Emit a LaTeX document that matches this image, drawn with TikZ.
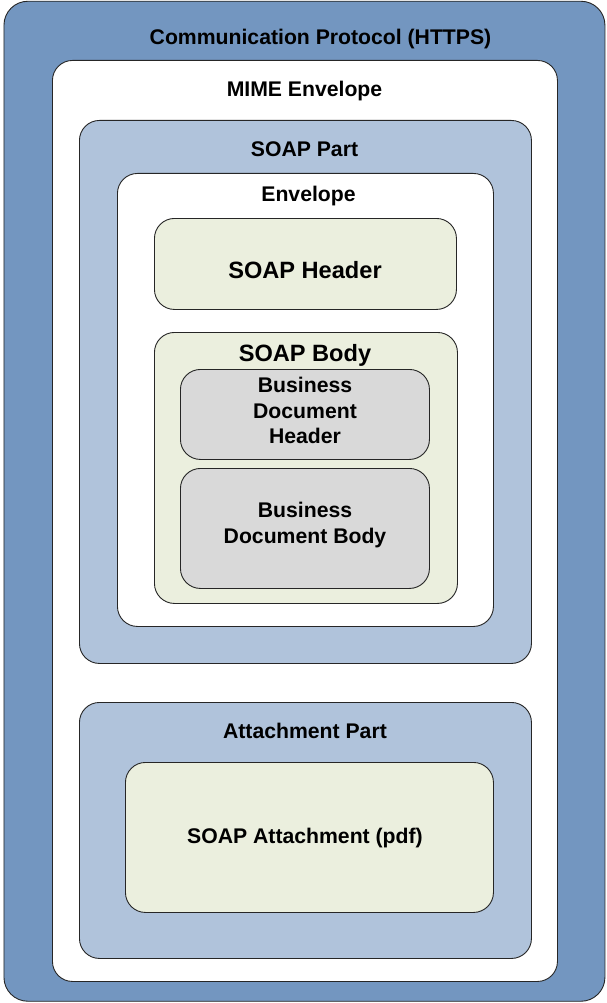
\documentclass[tikz,border=0pt]{standalone}
\usepackage{fontspec}
\setmainfont{Liberation Sans}
\definecolor{outerblue}{HTML}{7396C0}
\definecolor{partblue}{HTML}{B0C3DB}
\definecolor{palegreen}{HTML}{EBEFDE}
\definecolor{palegray}{HTML}{D9D9D9}
\tikzset{
  box/.style={draw=black!85, line width=0.9pt, rounded corners=20pt, inner sep=0pt, anchor=north west},
  lbl/.style={font=\bfseries\fontsize{21.2}{26}\selectfont, anchor=base, inner sep=0pt},
  biglbl/.style={font=\bfseries\fontsize{23.6}{28}\selectfont, anchor=base, inner sep=0pt},
}
\newcommand{\boxat}[6]{% name, style/fill, x1, y1, x2, y2
  \node[box, fill=#2, minimum width={(#5-#3)*1pt}, minimum height={(#6-#4)*1pt}] (#1) at (#3,#4) {};}
\begin{document}
\begin{tikzpicture}[x=1pt,y=-1pt]
\useasboundingbox (0,0) rectangle (606,1003);
\node[box, fill=outerblue, rounded corners=24pt, minimum width=601pt, minimum height=1000pt] (proto) at (3.5,0.8) {};
\boxat{mime}{white}{52}{60}{557}{981}
\boxat{soappart}{partblue}{79}{120}{531}{663}
\boxat{envelope}{white}{117}{173}{493}{626}
\boxat{header}{palegreen}{154}{218}{456}{309}
\boxat{body}{palegreen}{154}{332}{457}{603}
\boxat{bdh}{palegray}{180}{369}{429}{459}
\boxat{bdb}{palegray}{180}{468}{429}{588}
\boxat{attpart}{partblue}{79}{702}{531}{958}
\boxat{att}{palegreen}{125}{762}{493}{912}

\node[lbl] (tproto) at (320.5,45) {Communication Protocol (HTTPS)};
\node[lbl] (tmime) at (304.5,97) {MIME Envelope};
\node[lbl] (tsoappart) at (304.5,157) {SOAP Part};
\node[lbl] (tenv) at (308.5,201.5) {Envelope};
\node[biglbl] (theader) at (305,278) {SOAP Header};
\node[biglbl] (tbody) at (305,361) {SOAP Body};
\node[lbl] (tbdh1) at (305,392) {Business};
\node[lbl] (tbdh2) at (305,418) {Document};
\node[lbl] (tbdh3) at (305,443.5) {Header};
\node[lbl] (tbdb1) at (305,517) {Business};
\node[lbl] (tbdb2) at (305,543) {Document Body};
\node[lbl] (tattpart) at (305,738) {Attachment Part};
\node[lbl] (tatt) at (305,843) {SOAP Attachment (pdf)};
\end{tikzpicture}
\end{document}
